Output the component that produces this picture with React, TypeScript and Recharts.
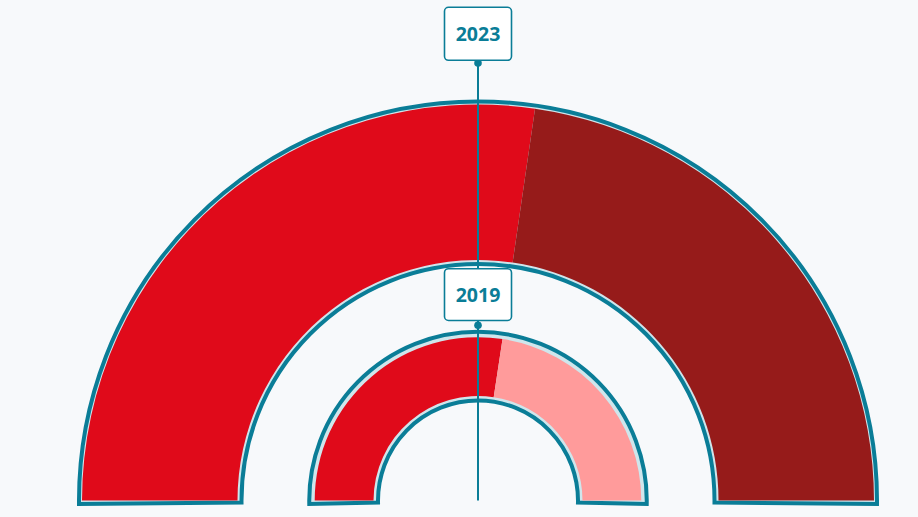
import React from "react";
import { PieChart, Pie, Cell } from "recharts";

// ---- data ----
const years = ["2023", "2019"];
const categories = ["Part A", "Part B"];
const values2023 = [54.6, 45.4];
const values2019 = [54.8, 45.2];

// ---- styles ----
const W = 918;
const H = 517;
const CX = 478;
const CY = 500.5;
const TEAL = "#0a7d97";
const BAND = "#cfe6ec";
const BG = "#f7f9fb";
const colors2023 = ["#e00a1a", "#961b1a"];
const colors2019 = ["#e00a1a", "#ff9b9b"];

const rings = [
  { year: years[0], values: values2023, colors: colors2023, bgIn: 236.5, bgOut: 399, dIn: 240.5, dOut: 396, delta: 0.5, dotGap: 38.5, boxGap: 2.7, boxH: 53 },
  { year: years[1], values: values2019, colors: colors2019, bgIn: 100, bgOut: 168.75, dIn: 104.5, dOut: 163.3, delta: 1.2, dotGap: 6.5, boxGap: 4.8, boxH: 51.7 },
];

const toData = (vals: number[]) => vals.map((v, i) => ({ name: categories[i], value: v }));

const Annotations = () => {
  const outerTop = CY - rings[0].bgOut - rings[0].dotGap;
  return (
    <svg width={W} height={H} style={{ position: "absolute", left: 0, top: 0, pointerEvents: "none" }}>
      <line x1={CX} x2={CX} y1={outerTop} y2={CY} stroke={TEAL} strokeWidth={2} />
      {rings.map((r) => {
        const dotY = CY - r.bgOut - r.dotGap;
        const boxBottom = dotY - r.boxGap;
        const boxTop = boxBottom - r.boxH;
        const mid = (boxTop + boxBottom) / 2;
        return (
          <g key={r.year}>
            <circle cx={CX} cy={dotY} r={3.8} fill={TEAL} />
            <rect x={CX - 33.5} y={boxTop} width={67} height={r.boxH} rx={4} ry={4} fill="#ffffff" stroke={TEAL} strokeWidth={1.6} />
            <text x={CX} y={mid + 7} textAnchor="middle" fontFamily="'Open Sans', sans-serif" fontWeight={700} fontSize={19.5} fill={TEAL}>
              {r.year}
            </text>
          </g>
        );
      })}
    </svg>
  );
};

export default function App() {
  return (
    <div style={{ position: "absolute", left: 0, top: 0, width: W, height: H, background: BG }}>
      <PieChart width={W} height={H} margin={{ top: 0, right: 0, bottom: 0, left: 0 }}>
        {rings.map((r) => (
          <Pie
            key={"bg" + r.year}
            data={[{ name: r.year, value: 1 }]}
            dataKey="value"
            cx={CX}
            cy={CY}
            startAngle={180 + r.delta}
            endAngle={-r.delta}
            innerRadius={r.bgIn}
            outerRadius={r.bgOut}
            fill={BAND}
            stroke={TEAL}
            strokeWidth={4}
            isAnimationActive={false}
          >
            <Cell fill={BAND} stroke={TEAL} strokeWidth={4} />
          </Pie>
        ))}
        {rings.map((r) => (
          <Pie
            key={"d" + r.year}
            data={toData(r.values)}
            dataKey="value"
            cx={CX}
            cy={CY}
            startAngle={180}
            endAngle={0}
            innerRadius={r.dIn}
            outerRadius={r.dOut}
            stroke="none"
            isAnimationActive={false}
          >
            {r.values.map((_, i) => (
              <Cell key={i} fill={r.colors[i]} stroke="none" />
            ))}
          </Pie>
        ))}
      </PieChart>
      <Annotations />
    </div>
  );
}
